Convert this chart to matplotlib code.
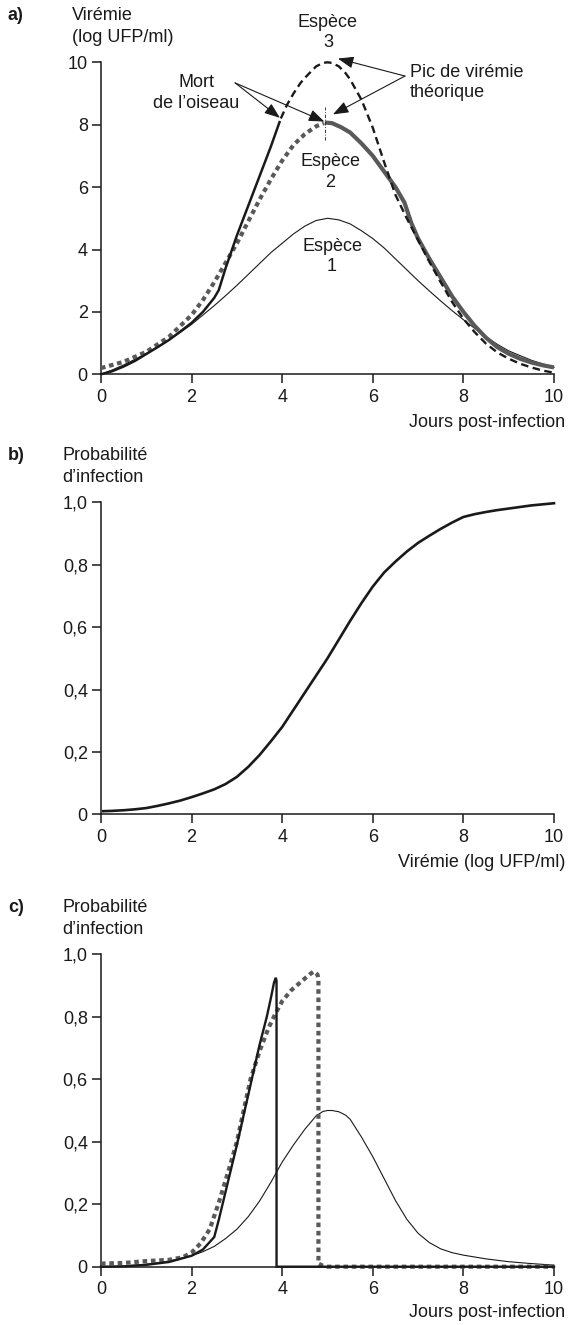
import matplotlib
matplotlib.use("Agg")
import matplotlib.pyplot as plt

plt.rcParams['font.family'] = ['Liberation Sans', 'DejaVu Sans']

# ---------------- Data ----------------
# Panel a : virémie (log UFP/ml) vs jours post-infection
days_sp1 = [0, 0.25, 0.5, 0.75, 1, 1.25, 1.5, 1.75, 2, 2.25, 2.5, 2.75, 3, 3.25, 3.5, 3.75, 4, 4.25, 4.5,
            4.75, 5, 5.25, 5.5, 5.75, 6, 6.25, 6.5, 6.75, 7, 7.25, 7.5, 7.75, 8, 8.25, 8.5, 8.75, 9, 9.5, 10]
vir_sp1 = [0.0, 0.14, 0.3, 0.48, 0.67, 0.88, 1.1, 1.34, 1.6, 1.9, 2.2, 2.52, 2.85, 3.2, 3.55, 3.9, 4.2, 4.5, 4.75,
           4.93, 5.0, 4.95, 4.82, 4.6, 4.35, 4.05, 3.7, 3.35, 3.0, 2.67, 2.35, 2.04, 1.75, 1.47, 1.2, 0.96, 0.75, 0.45, 0.22]

days_sp2_early = [0, 0.5, 1, 1.5, 2, 2.25, 2.5, 2.75, 3, 3.25, 3.5, 3.75, 4, 4.25, 4.5, 4.75, 4.92]
vir_sp2_early = [0.2, 0.4, 0.72, 1.2, 1.9, 2.38, 2.95, 3.57, 4.2, 4.9, 5.6, 6.25, 6.85, 7.35, 7.7, 7.95, 8.05]
days_sp2_late = [4.94, 5.1, 5.3, 5.5, 5.75, 6, 6.25, 6.5, 6.7, 6.85, 7, 7.25, 7.5, 7.75, 8, 8.25, 8.5, 8.75, 9, 9.25, 9.5, 9.75, 10]
vir_sp2_late = [8.07, 8.05, 7.92, 7.75, 7.4, 7.0, 6.5, 6.0, 5.5, 4.85, 4.35, 3.7, 3.1, 2.5, 2.0, 1.55, 1.17, 0.87, 0.66, 0.5, 0.38, 0.29, 0.22]

days_sp3_real = [0, 0.25, 0.5, 0.75, 1, 1.25, 1.5, 1.75, 2, 2.25, 2.5, 2.6, 2.75, 3, 3.25, 3.5, 3.75, 3.95]
vir_sp3_real = [0.0, 0.1, 0.25, 0.43, 0.65, 0.87, 1.1, 1.37, 1.65, 2.0, 2.45, 2.7, 3.4, 4.45, 5.4, 6.35, 7.3, 8.12]
days_sp3_theo = [3.97, 4.1, 4.25, 4.4, 4.5, 4.6, 4.75, 4.9, 5, 5.1, 5.25, 5.4, 5.5, 5.75, 6, 6.25, 6.5, 6.75, 7,
                 7.25, 7.5, 7.75, 8, 8.25, 8.5, 8.75, 9, 9.25, 9.5, 9.75, 10]
vir_sp3_theo = [8.2, 8.62, 9.0, 9.33, 9.5, 9.65, 9.87, 9.98, 10.0, 9.98, 9.87, 9.65, 9.45, 8.8, 7.9, 6.8, 5.75, 5.0, 4.3,
                3.6, 2.95, 2.32, 1.78, 1.35, 0.98, 0.7, 0.5, 0.34, 0.22, 0.12, 0.05]

# Panel b : probabilité d'infection vs virémie
vir_b = [0.05, 0.25, 0.5, 0.75, 1, 1.25, 1.5, 1.75, 2, 2.25, 2.5, 2.75, 3, 3.25, 3.5, 3.75, 4, 4.25, 4.5, 4.75, 5,
         5.25, 5.5, 5.75, 6, 6.25, 6.5, 6.75, 7, 7.25, 7.5, 7.75, 8, 8.25, 8.5, 8.75, 9, 9.5, 10]
prob_b = [0.01, 0.011, 0.013, 0.016, 0.02, 0.027, 0.035, 0.044, 0.055, 0.067, 0.08, 0.097, 0.12, 0.152, 0.19, 0.234,
          0.28, 0.335, 0.39, 0.445, 0.5, 0.56, 0.62, 0.677, 0.73, 0.775, 0.81, 0.842, 0.87, 0.893, 0.915, 0.935,
          0.953, 0.962, 0.969, 0.975, 0.98, 0.99, 0.997]

# Panel c : probabilité d'infection vs jours post-infection
days_c1 = [0, 0.5, 1, 1.5, 2, 2.25, 2.5, 2.75, 3, 3.25, 3.5, 3.75, 4, 4.25, 4.5, 4.75, 4.9, 5, 5.1, 5.25, 5.4, 5.5,
           5.75, 6, 6.25, 6.5, 6.75, 7, 7.25, 7.5, 7.75, 8, 8.5, 9, 9.5, 10]
prob_c1 = [0.0, 0.002, 0.008, 0.018, 0.035, 0.048, 0.065, 0.09, 0.12, 0.16, 0.21, 0.27, 0.335, 0.39, 0.44, 0.483,
           0.497, 0.50, 0.5, 0.496, 0.485, 0.472, 0.415, 0.352, 0.282, 0.212, 0.152, 0.107, 0.077, 0.057, 0.045,
           0.037, 0.025, 0.016, 0.01, 0.005]

days_c3 = [0, 0.5, 1, 1.5, 2, 2.25, 2.5, 2.6, 2.75, 3, 3.25, 3.5, 3.66, 3.75, 3.82, 3.86, 3.875, 3.875, 10]
prob_c3 = [0.0, 0.001, 0.006, 0.015, 0.035, 0.055, 0.095, 0.15, 0.24, 0.39, 0.55, 0.71, 0.8, 0.86, 0.91, 0.925, 0.915, 0.0, 0.0]

days_c2 = [0, 0.5, 1, 1.5, 1.8, 2, 2.2, 2.4, 2.6, 2.8, 3, 3.15, 3.3, 3.5, 3.7, 3.85, 4, 4.2, 4.4, 4.6, 4.7, 4.78,
           4.8, 4.8, 4.9, 5.0, 10]
prob_c2 = [0.01, 0.012, 0.018, 0.022, 0.03, 0.045, 0.075, 0.12, 0.205, 0.3, 0.4, 0.5, 0.6, 0.69, 0.765, 0.81, 0.85,
           0.885, 0.91, 0.935, 0.945, 0.935, 0.92, 0.01, 0.003, 0.0, 0.0]

a_ticks = [0, 2, 4, 6, 8, 10]
a_ticklabels = ['0', '2', '4', '6', '8', '10']
p_ticks = [0, 0.2, 0.4, 0.6, 0.8, 1.0]
p_ticklabels = ['0', '0,2', '0,4', '0,6', '0,8', '1,0']
x_ticks = [0, 2, 4, 6, 8, 10]
x_ticklabels = ['0', '2', '4', '6', '8', '10']

# ---------------- Figure ----------------
W, H = 569, 1325
fig = plt.figure(figsize=(W / 100, H / 100), dpi=100)
FS = 13
INK = '#1a1a1a'
GREY = '#595959'


def px(x, y):
    return x / W, 1 - y / H


def make_ax(top_px, bottom_px):
    left, right = 101, 554
    ax = fig.add_axes([left / W, 1 - bottom_px / H, (right - left) / W, (bottom_px - top_px) / H])
    for s in ['top', 'right']:
        ax.spines[s].set_visible(False)
    for s in ['left', 'bottom']:
        ax.spines[s].set_linewidth(1.1)
        ax.spines[s].set_color(INK)
    ax.tick_params(direction='out', length=6.5, width=1.1, color=INK,
                   labelsize=FS, labelcolor=INK)
    ax.tick_params(axis='x', pad=4)
    ax.tick_params(axis='y', pad=3)
    ax.set_xlim(0, 10)
    ax.set_xticks(x_ticks)
    ax.set_xticklabels(x_ticklabels)
    ax.patch.set_visible(False)
    return ax


# ---- Panel a ----
ax1 = make_ax(62.3, 374.3)
ax1.set_ylim(0, 10)
ax1.set_yticks(a_ticks)
ax1.set_yticklabels(a_ticklabels)
ax1.plot(days_sp1, vir_sp1, color=INK, lw=0.8, clip_on=False, zorder=2)
ax1.plot(days_sp2_early, vir_sp2_early, color=GREY, lw=3.0,
         linestyle=(0, (1.1, 0.9)), dash_capstyle='butt', clip_on=False, zorder=3)
ax1.plot(days_sp2_late, vir_sp2_late, color=GREY, lw=3.0,
         solid_capstyle='butt', clip_on=False, zorder=3)
ax1.plot(days_sp3_theo, vir_sp3_theo, color=INK, lw=1.7,
         linestyle=(0, (3.2, 1.9)), dash_capstyle='butt', clip_on=False, zorder=4)
ax1.plot(days_sp3_real, vir_sp3_real, color=INK, lw=1.8,
         solid_capstyle='butt', clip_on=False, zorder=5)
ax1.plot([4.94, 4.94], [7.5, 8.57], color=INK, lw=0.6,
         linestyle=(0, (4, 2, 1, 2)), zorder=6)

arrow_kw = dict(arrowstyle='-|>,head_length=0.95,head_width=0.36',
                color=INK, lw=0.8, mutation_scale=10, shrinkA=0, shrinkB=0)
ax1.annotate('', xy=(3.95, 8.22), xytext=(2.96, 9.34), arrowprops=arrow_kw,
             annotation_clip=False, zorder=7)
ax1.annotate('', xy=(4.93, 8.1), xytext=(2.96, 9.34), arrowprops=arrow_kw,
             annotation_clip=False, zorder=7)
ax1.annotate('', xy=(5.23, 10.12), xytext=(6.71, 9.56), arrowprops=arrow_kw,
             annotation_clip=False, zorder=7)
ax1.annotate('', xy=(5.12, 8.33), xytext=(6.71, 9.56), arrowprops=arrow_kw,
             annotation_clip=False, zorder=7)

ax1.text(2.10, 9.02, "Mort\nde l\u2019oiseau", ha='center', va='center',
         fontsize=FS, color=INK, linespacing=1.25)
ax1.text(6.82, 9.35, "Pic de virémie\nthéorique", ha='left', va='center',
         fontsize=FS, color=INK, linespacing=1.25)
ax1.text(5.01, 10.95, "Espèce\n3", ha='center', va='center', fontsize=FS,
         color=INK, linespacing=1.25, clip_on=False)
ax1.text(5.06, 6.48, "Espèce\n2", ha='center', va='center', fontsize=FS,
         color=INK, linespacing=1.25)
ax1.text(5.1, 3.77, "Espèce\n1", ha='center', va='center', fontsize=FS,
         color=INK, linespacing=1.25)

# ---- Panel b ----
ax2 = make_ax(502.3, 814.3)
ax2.set_ylim(0, 1)
ax2.set_yticks(p_ticks)
ax2.set_yticklabels(p_ticklabels)
ax2.plot(vir_b, prob_b, color=INK, lw=1.9, clip_on=False, zorder=3)

# ---- Panel c ----
ax3 = make_ax(954.3, 1266.7)
ax3.set_ylim(0, 1)
ax3.set_yticks(p_ticks)
ax3.set_yticklabels(p_ticklabels)
ax3.plot(days_c1, prob_c1, color=INK, lw=0.8, clip_on=False, zorder=2)
ax3.plot(days_c2, prob_c2, color=GREY, lw=3.0, linestyle=(0, (1.1, 0.9)),
         dash_capstyle='butt', clip_on=False, zorder=3)
ax3.plot(days_c3, prob_c3, color=INK, lw=1.7, solid_joinstyle='miter',
         clip_on=False, zorder=4)

# ---- Panel labels and axis titles (figure text) ----
for (lab, y_top, ylab) in [("a)", 62.3, ("Virémie", "(log UFP/ml)")),
                           ("b)", 502.3, ("Probabilité", "d\u2019infection")),
                           ("c)", 954.3, ("Probabilité", "d\u2019infection"))]:
    fig.text(*px(8, y_top - 46.5), lab, fontsize=FS, fontweight='bold',
             ha='left', va='center', color=INK)
    xl = 72 if lab == "a)" else 62
    fig.text(*px(xl, y_top - 47), ylab[0], fontsize=FS, ha='left', va='center', color=INK)
    fig.text(*px(xl, y_top - 25), ylab[1], fontsize=FS, ha='left', va='center', color=INK)

fig.text(*px(565, 374.3 + 48), "Jours post-infection", fontsize=FS,
         ha='right', va='center', color=INK)
fig.text(*px(565, 814.3 + 48), "Virémie (log UFP/ml)", fontsize=FS,
         ha='right', va='center', color=INK)
fig.text(*px(565, 1266.7 + 46), "Jours post-infection", fontsize=FS,
         ha='right', va='center', color=INK)

fig.savefig("out.png", dpi=100)
